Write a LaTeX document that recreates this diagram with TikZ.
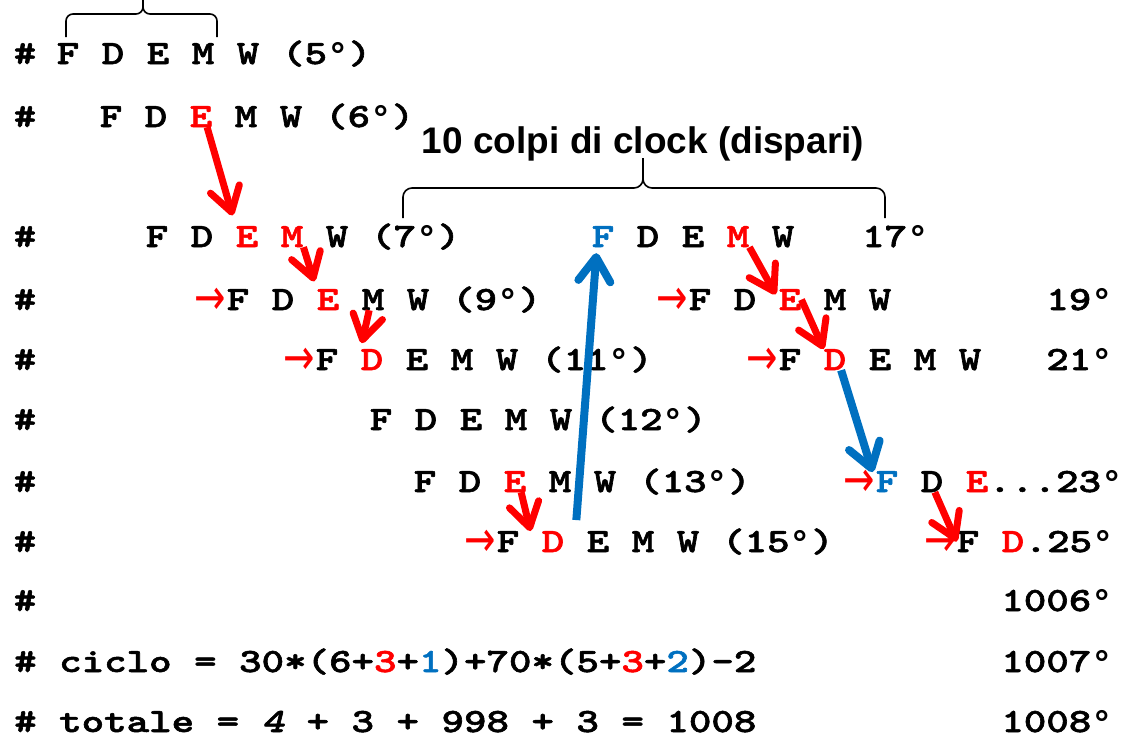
\documentclass[tikz,border=0pt]{standalone}
\usepackage{fontspec}
\usepackage{graphicx}
\usetikzlibrary{arrows.meta,positioning,calc}

\newfontfamily\hdrfont{Liberation Sans}
\newfontfamily\arwfont{DejaVu Sans}
\newfontfamily\dgfont{Liberation Mono}
\newfontfamily\cwfont{lmmonolt10-bold.otf}[FakeBold=1.5]
\newfontfamily\cwslfont{lmmonolt10-bold.otf}[FakeBold=1.5,FakeSlant=0.2]
\definecolor{pptblue}{RGB}{0,112,192}
\newcommand\cw[1]{\scalebox{1.26}[1]{#1}}
\newcommand\dg{\raisebox{-3pt}{\scalebox{0.79}[1]{\dgfont\bfseries\fontsize{36}{38}\selectfont °}}}

\tikzset{
  ch/.style={font=\cwfont\fontsize{34}{36}\selectfont, inner sep=0pt, anchor=base},
  arw/.style={font=\arwfont\fontsize{50}{52}\selectfont, text=red, inner sep=0pt, yshift=-4pt},
  redarr/.style={draw=red, line width=7pt, -{Straight Barb[length=24pt,width=30pt,round]}},
  bluearr/.style={draw=pptblue, line width=8pt, -{Straight Barb[length=24pt,width=32pt,round]}},
  bracket/.style={draw, line width=1.6pt},
}

\begin{document}
\begin{tikzpicture}[x=1pt,y=-1pt]
\useasboundingbox (0,0) rectangle (1137,739);

% hash column
\foreach \y in {64,127,247,310,370,430,492,552,611}
  \node[ch] (h\y) at (25,\y) {\cw{\#}};

% left column
\foreach \l/\col [count=\i from 0] in {F/black,D/black,E/black,M/black,W/black}
  \node[ch,text=\col] (a5\l) at (68+45*\i,64) {\cw{\l}};
\node[ch,base right=22.5pt of a5W] (a5n) {\cw{(5\dg)}};

\foreach \l/\col [count=\i from 0] in {F/black,D/black,E/red,M/black,W/black}
  \node[ch,text=\col] (a6\l) at (111+45*\i,127) {\cw{\l}};
\node[ch,base right=22.5pt of a6W] (a6n) {\cw{(6\dg)}};

\foreach \l/\col [count=\i from 0] in {F/black,D/black,E/red,M/red,W/black}
  \node[ch,text=\col] (a7\l) at (157+45*\i,247) {\cw{\l}};
\node[ch,base right=22.5pt of a7W] (a7n) {\cw{(7\dg)}};

\foreach \l/\col [count=\i from 0] in {F/black,D/black,E/red,M/black,W/black}
  \node[ch,text=\col] (a9\l) at (238+45*\i,310) {\cw{\l}};
\node[arw,base left=0pt of a9F] (a9a) {\scalebox{0.75}[1]{→}};
\node[ch,base right=22.5pt of a9W] (a9n) {\cw{(9\dg)}};

\foreach \l/\col [count=\i from 0] in {F/black,D/red,E/black,M/black,W/black}
  \node[ch,text=\col] (a11\l) at (327+45*\i,370) {\cw{\l}};
\node[arw,base left=0pt of a11F] (a11a) {\scalebox{0.75}[1]{→}};
\node[ch,base right=22.5pt of a11W] (a11n) {\cw{(11\dg)}};

\foreach \l/\col [count=\i from 0] in {F/black,D/black,E/black,M/black,W/black}
  \node[ch,text=\col] (a12\l) at (381+45*\i,430) {\cw{\l}};
\node[ch,base right=22.5pt of a12W] (a12n) {\cw{(12\dg)}};

\foreach \l/\col [count=\i from 0] in {F/black,D/black,E/red,M/black,W/black}
  \node[ch,text=\col] (a13\l) at (425+45*\i,492) {\cw{\l}};
\node[ch,base right=22.5pt of a13W] (a13n) {\cw{(13\dg)}};

\foreach \l/\col [count=\i from 0] in {F/black,D/red,E/black,M/black,W/black}
  \node[ch,text=\col] (a15\l) at (508+45*\i,552) {\cw{\l}};
\node[arw,base left=0pt of a15F] (a15a) {\scalebox{0.75}[1]{→}};
\node[ch,base right=22.5pt of a15W] (a15n) {\cw{(15\dg)}};

% right column
\foreach \l/\col [count=\i from 0] in {F/pptblue,D/black,E/black,M/red,W/black}
  \node[ch,text=\col] (b7\l) at (603+45*\i,247) {\cw{\l}};
\node[ch,base right=67.5pt of b7W] (b7n) {\cw{17\dg}};

\foreach \l/\col [count=\i from 0] in {F/black,D/black,E/red,M/black,W/black}
  \node[ch,text=\col] (b9\l) at (700+45*\i,310) {\cw{\l}};
\node[arw,base left=0pt of b9F] (b9a) {\scalebox{0.75}[1]{→}};
\node[ch,anchor=base east] (b9n) at (1113,310) {\cw{19\dg}};

\foreach \l/\col [count=\i from 0] in {F/black,D/red,E/black,M/black,W/black}
  \node[ch,text=\col] (b11\l) at (790+45*\i,370) {\cw{\l}};
\node[arw,base left=0pt of b11F] (b11a) {\scalebox{0.75}[1]{→}};
\node[ch,anchor=base east] (b11n) at (1113,370) {\cw{21\dg}};

\foreach \l/\col [count=\i from 0] in {F/pptblue,D/black,E/red}
  \node[ch,text=\col] (b13\l) at (887+45*\i,492) {\cw{\l}};
\node[arw,base left=0pt of b13F] (b13a) {\scalebox{0.75}[1]{→}};
\node[ch,base right=0pt of b13E] (b13n) {\cw{...23\dg}};

\foreach \l/\col [count=\i from 0] in {F/black,D/red}
  \node[ch,text=\col] (b15\l) at (968+45*\i,552) {\cw{\l}};
\node[arw,base left=0pt of b15F] (b15a) {\scalebox{0.75}[1]{→}};
\node[ch,base right=0pt of b15D] (b15n) {\cw{.25\dg}};

% bottom lines
\node[ch,anchor=base east] (n1006) at (1113,611) {\cw{1006\dg}};
\node[ch,anchor=base west] (cyc) at (14,672) {\cw{\# ciclo = 30*(6+\textcolor{red}{3}+\textcolor{pptblue}{1})+70*(5+\textcolor{red}{3}+\textcolor{pptblue}{2})-2}};
\node[ch,anchor=base east] (n1007) at (1113,672) {\cw{1007\dg}};
\node[ch,anchor=base west] (tot) at (14,732) {\cw{\# totale = {\cwslfont 4} + 3 + 998 + 3 = 1008}};
\node[ch,anchor=base east] (n1008) at (1113,732) {\cw{1008\dg}};

% braces and title
\draw[bracket, rounded corners=7pt] (66,37) -- (66,14) -- (143,14) -- (143,0);
\draw[bracket, rounded corners=7pt] (217,37) -- (217,14) -- (143,14) -- (143,0);
\node[font=\hdrfont\bfseries\fontsize{37}{40}\selectfont, inner sep=0pt, anchor=base] (clk) at (643,153) {10 colpi di clock (dispari)};
\draw[bracket, rounded corners=9pt] (403,218) -- (403,188) -- (643,188) -- (643,158);
\draw[bracket, rounded corners=9pt] (885,218) -- (885,188) -- (643,188) -- (643,158);

% arrows
\draw[redarr, shorten >=11pt] (a6E.-60) -- (a7E.north west);
\draw[redarr, shorten >=8pt] (a7M.south east) -- (a9E.north west);
\draw[redarr, shorten >=6pt] (a9M.-110) -- (a11D.north west);
\draw[redarr] (a13E.-60) -- ($(a15F.north east)!.5!(a15D.north west)$);
\draw[bluearr, shorten <=11pt, shorten >=6pt] ($(a15D.north east)!.5!(a15E.north west)$) -- (b7F.-120);
\draw[redarr, shorten >=6pt] (b7M.south east) -- (b9E.west);
\draw[redarr] (b9E.east) -- (b11D.north west);
\draw[bluearr, shorten >=10pt] (b11D.-60) -- (b13F.west);
\draw[redarr] (b13D.-75) -- (b15F.west);
\end{tikzpicture}
\end{document}
